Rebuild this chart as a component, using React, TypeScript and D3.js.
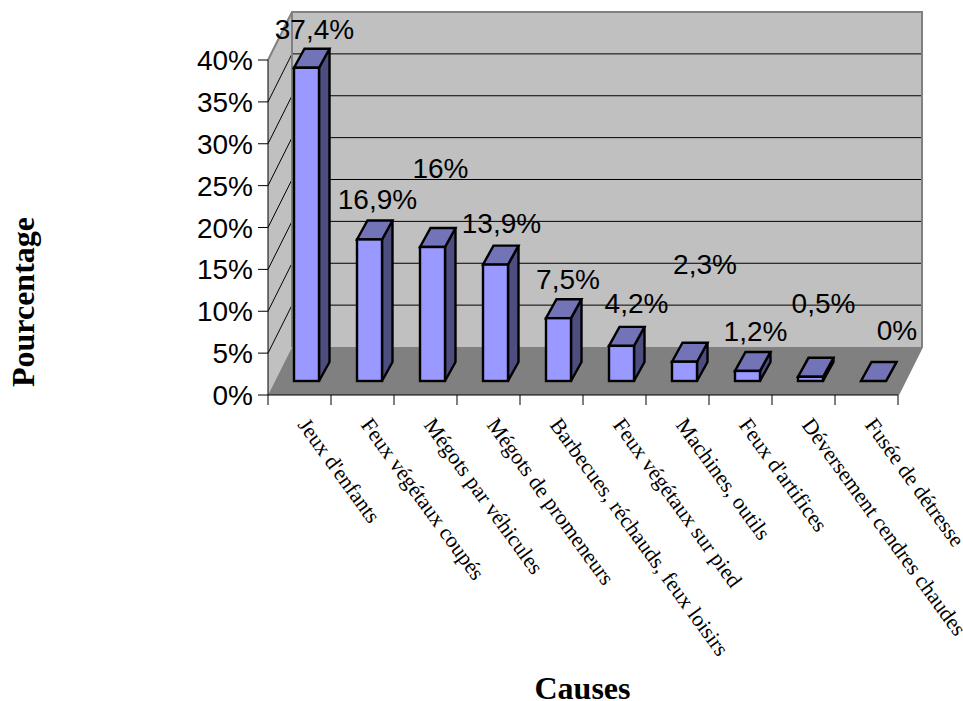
import React from "react";
import * as d3 from "d3";

const categories = ["Jeux d'enfants","Feux végétaux coupés","Mégots par véhicules","Mégots de promeneurs","Barbecues, réchauds, feux loisirs","Feux végétaux sur pied","Machines, outils","Feux d'artifices","Déversement cendres chaudes","Fusée de détresse"];
const values = [37.4,16.9,16,13.9,7.5,4.2,2.3,1.2,0.5,0];
const valueLabels = ["37,4%","16,9%","16%","13,9%","7,5%","4,2%","2,3%","1,2%","0,5%","0%"];
const yTicks = [0,5,10,15,20,25,30,35,40];
const yTitle = "Pourcentage";
const xTitle = "Causes";

// label placement relative to each column's front-top corner (as the original's manual offsets)
const labelDx = [8,8,8,6,9.5,15,20.5,8,13,23.5];
const labelDy = [-29,-30,-69,-32,-29.5,-33,-88,-29.5,-64,-41];

const W = 963, H = 701;
const x0 = 268, x1 = 898, yB = 395, yT = 60;
const depthX = 24, depthY = 48;
const barInsetX = 26, barW = 25, barLift = 14, barDX = 10.5, barDY = 19;

const x = d3.scaleBand<string>().domain(categories).range([x0, x1]);
const y = d3.scaleLinear().domain([0, 40]).range([yB, yT]);
const h = (v: number) => yB - y(v);
const poly = (pts: number[][]) => pts.map(p => p.join(",")).join(" ");

export default function App() {
  const step = x.step();
  return (
    <svg width={W} height={H} viewBox={`0 0 ${W} ${H}`} style={{ position: "absolute", left: 0, top: 0, background: "#fff" }}>
      {/* walls and floor */}
      <polygon points={poly([[x0, yB],[x0, yT],[x0+depthX, yT-depthY],[x0+depthX, yB-depthY]])} fill="#c0c0c0" />
      <polygon points={poly([[x0+depthX, yT-depthY],[x1+depthX, yT-depthY],[x1+depthX, yB-depthY],[x0+depthX, yB-depthY]])} fill="#c0c0c0" />
      <polygon points={poly([[x0, yB],[x0+depthX, yB-depthY],[x1+depthX, yB-depthY],[x1, yB]])} fill="#808080" />
      {/* gridlines */}
      {yTicks.filter(t => t > 0 && t < 40).map(t => (
        <g key={t} stroke="#000" strokeWidth={1}>
          <line x1={x0} y1={y(t)} x2={x0+depthX} y2={y(t)-depthY} />
          <line x1={x0+depthX} y1={y(t)-depthY} x2={x1+depthX} y2={y(t)-depthY} />
        </g>
      ))}
      {/* wall outlines */}
      <polyline points={poly([[x0, yT],[x0+depthX, yT-depthY],[x1+depthX, yT-depthY],[x1+depthX, yB-depthY],[x1, yB]])} fill="none" stroke="#808080" strokeWidth={2} />
      <line x1={x0+depthX} y1={yT-depthY} x2={x0+depthX} y2={yB-depthY} stroke="#808080" strokeWidth={2} />
      {/* axes */}
      <line x1={x0} y1={yT} x2={x0} y2={yB} stroke="#000" strokeWidth={1} />
      <line x1={x0} y1={yB} x2={x1} y2={yB} stroke="#000" strokeWidth={1} />
      {yTicks.map(t => (
        <g key={t}>
          <line x1={x0-10} y1={y(t)} x2={x0} y2={y(t)} stroke="#000" />
          <text x={x0-15} y={y(t)+10} textAnchor="end" fontFamily="'Liberation Sans'" fontSize={28} fill="#000">{t}%</text>
        </g>
      ))}
      {d3.range(categories.length + 1).map(i => (
        <line key={i} x1={x0+i*step} y1={yB} x2={x0+i*step} y2={yB+10} stroke="#000" />
      ))}
      {/* columns */}
      {categories.map((c, i) => {
        const L = x(c)! + barInsetX, R = L + barW, B = yB - barLift, T = B - h(values[i]);
        return (
          <g key={c} stroke="#000" strokeWidth={2.4} strokeLinejoin="miter">
            <polygon points={poly([[R, B],[R+barDX, B-barDY],[R+barDX, T-barDY],[R, T]])} fill="#4d4d80" />
            <polygon points={poly([[L, T],[L+barDX, T-barDY],[R+barDX, T-barDY],[R, T]])} fill="#7373b8" />
            <rect x={L} y={T} width={barW} height={h(values[i])} fill="#9999ff" />
          </g>
        );
      })}
      {/* value labels */}
      {categories.map((c, i) => {
        const L = x(c)! + barInsetX, T = yB - barLift - h(values[i]);
        return (
          <text key={c} x={L + labelDx[i] + barW / 2} y={T + labelDy[i]} textAnchor="middle" fontFamily="'Liberation Sans'" fontSize={28} fill="#000">
            {valueLabels[i]}
          </text>
        );
      })}
      {/* category labels */}
      {categories.map((c, i) => (
        <text key={c} transform={`translate(${x(c)! + 29},${yB + 30}) rotate(54)`} fontFamily="'Liberation Serif'" fontSize={21.8} fill="#000">{c}</text>
      ))}
      {/* titles */}
      <text x={582.5} y={698.5} textAnchor="middle" fontFamily="'Liberation Serif'" fontWeight="bold" fontSize={32} fill="#000">{xTitle}</text>
      <text transform="translate(34,302) rotate(-90)" textAnchor="middle" fontFamily="'Liberation Serif'" fontWeight="bold" fontSize={32} fill="#000">{yTitle}</text>
    </svg>
  );
}
